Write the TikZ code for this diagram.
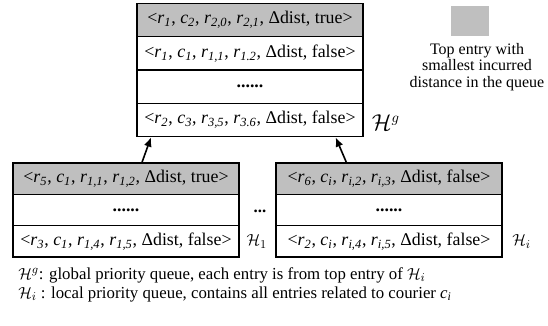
\documentclass[tikz,border=0pt]{standalone}
\usepackage{fontspec}
\setmainfont{Liberation Serif}
\usepackage{amssymb}
\usetikzlibrary{matrix,arrows.meta,positioning}

\newcommand{\qv}[2]{\textit{#1}\textsubscript{\textit{#2}}}

\begin{document}
\begin{tikzpicture}[x=0.75pt,y=-0.75pt,
    qentry/.style={draw,line width=1pt,minimum width=169.5pt,minimum height=25pt,inner sep=0pt,font=\fontsize{13.4}{15}\selectfont},
    qtop/.style={qentry,fill=gray!50},
    qlabel/.style={font=\fontsize{12.6}{14}\selectfont,inner sep=0pt}]
  \useasboundingbox (0,0) rectangle (548,325);
  % global queue
  \matrix (g) at (250,70) [matrix of nodes, nodes={qentry}, row sep=-1pt]
  { |[qtop]| <\qv{r}{1}, \qv{c}{2}, \qv{r}{2,0}, \qv{r}{2,1}, Δdist, true> \\
    <\qv{r}{1}, \qv{c}{1}, \qv{r}{1,1}, \qv{r}{1.2}, Δdist, false> \\
    \textbf{......} \\
    <\qv{r}{2}, \qv{c}{3}, \qv{r}{3,5}, \qv{r}{3.6}, Δdist, false> \\ };
  % local queues
  \matrix (l) at (126,210) [matrix of nodes, nodes={qentry,minimum height=23.5pt}, row sep=-1pt]
  { |[qtop,minimum height=23.5pt]| <\qv{r}{5}, \qv{c}{1}, \qv{r}{1,1}, \qv{r}{1,2}, Δdist, true> \\
    \textbf{......} \\
    <\qv{r}{3}, \qv{c}{1}, \qv{r}{1,4}, \qv{r}{1,5}, Δdist, false> \\ };
  \matrix (r) at (389,210) [matrix of nodes, nodes={qentry,minimum height=23.5pt}, row sep=-1pt]
  { |[qtop,minimum height=23.5pt]| <\qv{r}{6}, \qv{c}{i}, \qv{r}{i,2}, \qv{r}{i,3}, Δdist, false> \\
    \textbf{......} \\
    <\qv{r}{2}, \qv{c}{i}, \qv{r}{i,4}, \qv{r}{i,5}, Δdist, false> \\ };
  \node[qlabel,font=\fontsize{16}{18}\selectfont,right=6pt of g-4-1,yshift=-2pt] (hg) {$\mathcal{H}^g$};
  \node[qlabel,right=5pt of l-3-1] (h1) {$\mathcal{H}_1$};
  \node[qlabel,right=7pt of r-3-1] (hi) {$\mathcal{H}_i$};
  \node[qlabel] (gap) at (260,211) {\textbf{...}};
  % legend
  \node[fill=gray!50,minimum width=29pt,minimum height=22pt] (key) at (470,21) {};
  \node[align=center,inner sep=0pt,font=\fontsize{12}{12.4}\selectfont] (keytext) at (477,67)
    {Top entry with\\smallest incurred\\distance in the queue};
  \path[-{Latex[length=7pt,width=6pt]},line width=1.2pt]
    ([xshift=12pt]l-1-1.north) edge ([xshift=11pt]g-4-1.south west);
  \path[-{Latex[length=7pt,width=6pt]},line width=1.2pt]
    ([xshift=-32pt]r-1-1.north) edge ([xshift=-21pt]g-4-1.south east);
  % notes
  \node[qlabel,anchor=base west] (note1) at (18,279)
    {$\mathcal{H}^g$: global priority queue, each entry is from top entry of $\mathcal{H}_i$};
  \node[qlabel,anchor=base west] (note2) at (18,298)
    {$\mathcal{H}_i$ : local priority queue, contains all entries related to courier \qv{c}{i}};
\end{tikzpicture}
\end{document}
